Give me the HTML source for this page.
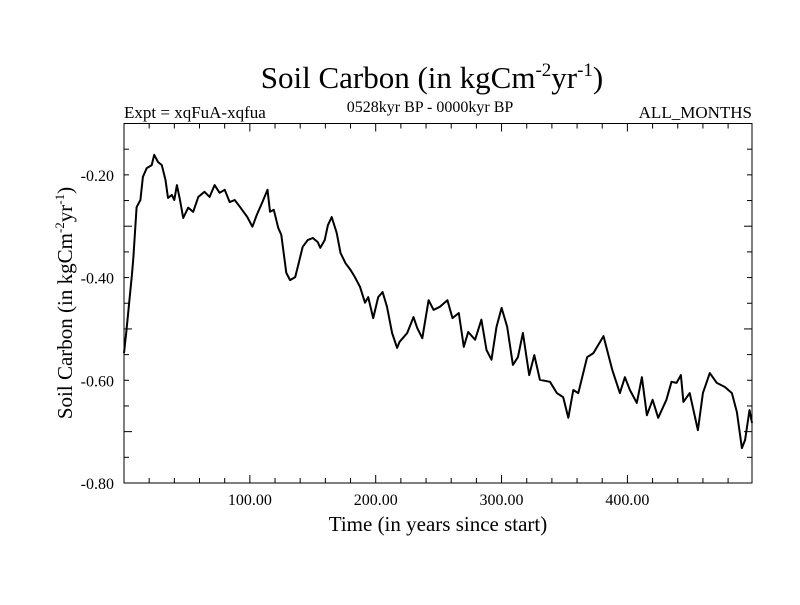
<!DOCTYPE html>
<html><head><meta charset="utf-8"><style>
body{margin:0;background:#fff}
svg text{font-family:"Liberation Serif",serif;fill:#000}
</style></head><body>
<svg id="chart" width="800" height="600" viewBox="0 0 800 600" xmlns="http://www.w3.org/2000/svg">
<rect width="800" height="600" fill="#fff"/>
<text x="432" y="88" font-size="31" text-anchor="middle">Soil Carbon (in kgCm<tspan font-size="19" dy="-12">-2</tspan><tspan dy="12">yr</tspan><tspan font-size="19" dy="-12">-1</tspan><tspan dy="12">)</tspan></text>
<text x="124" y="118" font-size="17">Expt = xqFuA-xqfua</text>
<text x="430" y="112" font-size="16" text-anchor="middle">0528kyr BP - 0000kyr BP</text>
<text x="752" y="118" font-size="17" text-anchor="end">ALL_MONTHS</text>
<g id="axes"></g>
<path id="series" fill="none" stroke="#000" stroke-width="2" stroke-linejoin="round"/>
<rect x="124" y="123.5" width="628" height="359.5" fill="none" stroke="#000" stroke-width="1"/>
<text x="438" y="531" font-size="21" text-anchor="middle">Time (in years since start)</text>
<text transform="translate(72,303) rotate(-90)" font-size="21" text-anchor="middle">Soil Carbon (in kgCm<tspan font-size="13" dy="-8">-2</tspan><tspan dy="8">yr</tspan><tspan font-size="13" dy="-8">-1</tspan><tspan dy="8">)</tspan></text>
</svg>
<script>
const years=[0,2,6.4,7.5,10,13,15,18,22,24,27,30,33,35,38,40,42,44.5,47,51,55,59,64,68,72,76,80,84,88,92,98,102,105.5,110,114,116,119,122.5,125,129,132,136,138.5,142,146,150,154,156,159.5,162,165,169,172,176,180,183.5,187.5,191.5,194,198,202,205.5,209,213,217,219,225,230,233,237,242,246,251,257,261,266,270,273.5,279,284,288,292,296,300,304.5,309,313,317,322,326,330.5,338.5,344,349,353,357,361,368,373,381,388,394,398,402,407.5,411.5,415.5,420,424.5,431,435,439,442.5,444.5,449.5,456,460,465.5,471,477.5,483,487,491,493.5,497,499];
const carbon=[-0.547,-0.502,-0.391,-0.360,-0.263,-0.249,-0.204,-0.187,-0.181,-0.161,-0.175,-0.181,-0.210,-0.245,-0.239,-0.249,-0.220,-0.249,-0.284,-0.264,-0.272,-0.243,-0.233,-0.243,-0.220,-0.235,-0.229,-0.253,-0.249,-0.262,-0.282,-0.301,-0.278,-0.253,-0.229,-0.272,-0.268,-0.303,-0.317,-0.391,-0.405,-0.399,-0.375,-0.340,-0.327,-0.323,-0.331,-0.342,-0.327,-0.298,-0.282,-0.313,-0.352,-0.372,-0.385,-0.399,-0.418,-0.449,-0.438,-0.479,-0.438,-0.428,-0.457,-0.508,-0.537,-0.525,-0.508,-0.477,-0.498,-0.518,-0.444,-0.463,-0.457,-0.444,-0.479,-0.469,-0.535,-0.506,-0.521,-0.482,-0.541,-0.560,-0.496,-0.459,-0.496,-0.570,-0.555,-0.508,-0.590,-0.551,-0.599,-0.603,-0.625,-0.633,-0.673,-0.619,-0.625,-0.555,-0.547,-0.514,-0.580,-0.625,-0.594,-0.619,-0.644,-0.594,-0.668,-0.638,-0.673,-0.638,-0.603,-0.605,-0.590,-0.642,-0.625,-0.697,-0.625,-0.586,-0.605,-0.613,-0.625,-0.662,-0.732,-0.716,-0.658,-0.683];
const xTicks=[100,200,300,400];
const xTickLabels=["100.00","200.00","300.00","400.00"];
const yTicks=[-0.2,-0.4,-0.6,-0.8];
const yTickLabels=["-0.20","-0.40","-0.60","-0.80"];
const X0=124,X1=752,Y0=483,Y1=123.5,XMIN=0,XMAX=499,YMIN=-0.8,YMAX=-0.1;
const sx=v=>X0+(v-XMIN)/(XMAX-XMIN)*(X1-X0);
const sy=v=>Y0-(v-YMIN)/(YMAX-YMIN)*(Y0-Y1);
const NS="http://www.w3.org/2000/svg";
const axes=document.getElementById('axes');
function ln(x1,y1,x2,y2){const l=document.createElementNS(NS,'line');l.setAttribute('x1',x1);l.setAttribute('y1',y1);l.setAttribute('x2',x2);l.setAttribute('y2',y2);l.setAttribute('stroke','#000');l.setAttribute('stroke-width','1');axes.appendChild(l);return l;}
for(let v=20;v<XMAX;v+=20){const big=v%100===0,len=big?8:5;
 let a=ln(sx(v),Y0,sx(v),Y0-len);
 
 
 let b=ln(sx(v),Y1,sx(v),Y1+len);
 
 }
for(let i=0;i<=14;i++){const v=-0.8+i*0.05;const big=(i%4===2)||i===0;const len=big?8:5;
 let a=ln(X0,sy(v),X0+len,sy(v));
 
 
 let b=ln(X1,sy(v),X1-len,sy(v));
 
 }
xTicks.forEach((v,i)=>{const t=document.createElementNS(NS,'text');t.setAttribute('x',sx(v));t.setAttribute('y',505);t.setAttribute('font-size','16');t.setAttribute('text-anchor','middle');t.textContent=xTickLabels[i];
 
 
 axes.appendChild(t);});
yTicks.forEach((v,i)=>{const t=document.createElementNS(NS,'text');t.setAttribute('x',114);t.setAttribute('y',sy(v)+6);t.setAttribute('font-size','16');t.setAttribute('text-anchor','end');t.textContent=yTickLabels[i];
 
 
 axes.appendChild(t);});
document.getElementById('series').setAttribute('d',years.map((x,i)=>(i?'L':'M')+sx(x).toFixed(1)+','+sy(carbon[i]).toFixed(1)).join(''));
</script>
</body></html>
